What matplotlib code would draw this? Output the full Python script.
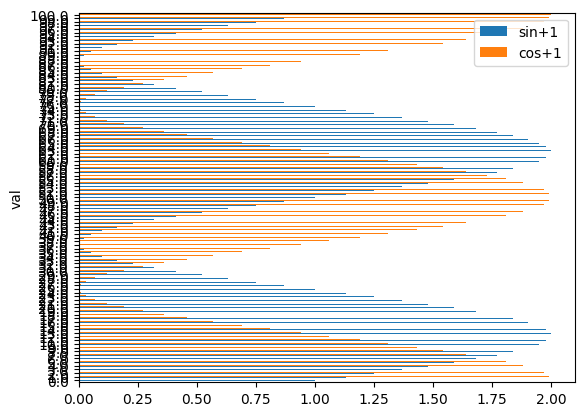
import pandas as pd
import matplotlib
matplotlib.use("Agg")
import matplotlib.pyplot as plt

# index of the frame: 0.0 .. 100.0
val = [float(v) for v in range(101)]

# one period (k = 0..50) of each series
sin_half = [1.00, 1.13, 1.25, 1.37, 1.48, 1.59, 1.68, 1.77, 1.84, 1.90,
            1.95, 1.98, 2.00, 2.00, 1.98, 1.95, 1.90, 1.84, 1.77, 1.68,
            1.59, 1.48, 1.37, 1.25, 1.13, 1.00, 0.87, 0.75, 0.63, 0.52,
            0.41, 0.32, 0.23, 0.16, 0.10, 0.05, 0.02, 0.00, 0.00, 0.02,
            0.05, 0.10, 0.16, 0.23, 0.32, 0.41, 0.52, 0.63, 0.75, 0.87,
            1.00]
cos_half = [2.00, 1.99, 1.97, 1.93, 1.88, 1.81, 1.73, 1.64, 1.54, 1.43,
            1.31, 1.19, 1.06, 0.94, 0.81, 0.69, 0.57, 0.46, 0.36, 0.27,
            0.19, 0.12, 0.07, 0.03, 0.01, 0.00, 0.01, 0.03, 0.07, 0.12,
            0.19, 0.27, 0.36, 0.46, 0.57, 0.69, 0.81, 0.94, 1.06, 1.19,
            1.31, 1.43, 1.54, 1.64, 1.73, 1.81, 1.88, 1.93, 1.97, 1.99,
            2.00]

# two periods over the 101 index values
sin_p1 = sin_half + sin_half[1:]
cos_p1 = cos_half + cos_half[1:]

df = pd.DataFrame({"sin+1": sin_p1, "cos+1": cos_p1},
                  index=pd.Index(val, name="val"))

ax = df.plot.barh()
ax.legend(loc="upper right")
plt.savefig("out.png", bbox_inches="tight")
